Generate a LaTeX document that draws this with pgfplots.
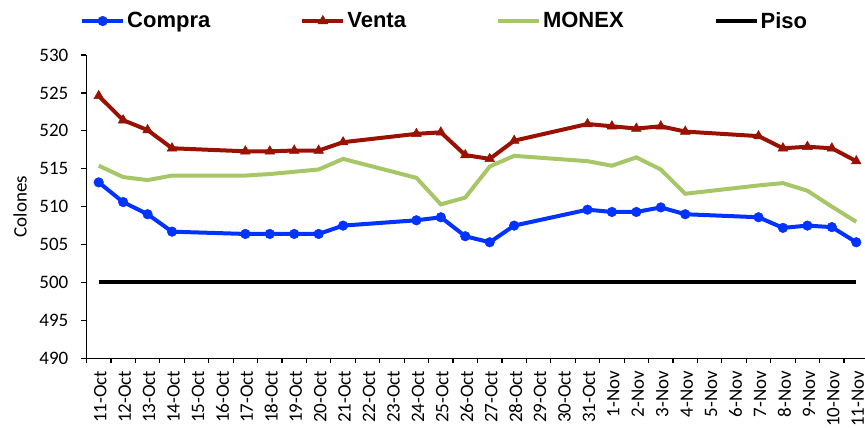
\documentclass[border=0pt]{standalone}
\usepackage{pgfplots}
\pgfplotsset{compat=1.18}
\usepackage{fontspec}
\setmainfont{Carlito}
\newfontfamily\legfont{Liberation Sans}
\definecolor{cblue}{RGB}{0,51,255}
\definecolor{cred}{RGB}{153,17,0}
\definecolor{cgreen}{RGB}{166,198,104}
\begin{document}
\begin{tikzpicture}
\useasboundingbox (0,0) rectangle (865pt,428pt);
\begin{axis}[
  scale only axis, width=782pt, height=303.3pt,
  at={(86.5pt,69.7pt)}, anchor=south west,
  xmin=-0.5, xmax=31.5, ymin=490, ymax=530,
  axis x line*=bottom, axis y line*=left,
  axis line style={line width=1.5pt, black},
  ytick={490,495,...,530},
  xtick={-0.5,0.5,...,31.5},
  x tick label as interval,
  xticklabels={11-Oct,12-Oct,13-Oct,14-Oct,15-Oct,16-Oct,17-Oct,18-Oct,19-Oct,20-Oct,21-Oct,22-Oct,23-Oct,24-Oct,25-Oct,26-Oct,27-Oct,28-Oct,29-Oct,30-Oct,31-Oct,1-Nov,2-Nov,3-Nov,4-Nov,5-Nov,6-Nov,7-Nov,8-Nov,9-Nov,10-Nov,11-Nov},
  tick align=outside, major tick length=5pt,
  tick style={line width=1.2pt, black},
  /pgf/number format/assume math mode=true,
  tick label style={font=\fontsize{19}{20}\selectfont},
  yticklabel style={anchor=east, inner sep=0pt},
  yticklabel shift=13pt,
  xticklabel style={xshift=1.5pt, rotate=90, anchor=east, inner sep=0pt},
  xticklabel shift=7.4pt,
  ylabel={Colones},
  every axis y label/.style={at={(axis description cs:-0.0849,0.5)}, rotate=90, anchor=center, font=\fontsize{19}{20}\selectfont},
  legend columns=4,
  legend cell align=left,
  legend style={at={(-0.0083,1.112)}, anchor=west, draw=none, fill=none, inner sep=0pt,
    font=\legfont\bfseries\fontsize{22}{24}\selectfont,
    nodes={inner xsep=2pt, inner ysep=0pt},
    /tikz/every even column/.append style={column sep=88pt}},
  legend image code/.code={\draw[mark repeat=2,mark phase=2,#1] plot coordinates {(0pt,0pt) (20.5pt,0pt) (41pt,0pt)};},
]
\addplot[color=cblue, line width=4pt, mark=*, mark size=4.8pt, mark options={solid, fill=cblue, line width=0.5pt}] coordinates {
(0,513.2) (1,510.6) (2,509.0) (3,506.7) (6,506.4) (7,506.4) (8,506.4) (9,506.4) (10,507.5)
(13,508.2) (14,508.6) (15,506.1) (16,505.3) (17,507.5) (20,509.6) (21,509.3) (22,509.3)
(23,509.9) (24,509.0) (27,508.6) (28,507.2) (29,507.5) (30,507.3) (31,505.3)};
\addlegendentry{Compra}
\addplot[color=cred, line width=4pt, mark=triangle*, mark size=5.6pt, mark options={solid, fill=cred, line width=0.5pt}] coordinates {
(0,524.6) (1,521.4) (2,520.1) (3,517.7) (6,517.3) (7,517.3) (8,517.4) (9,517.4) (10,518.5)
(13,519.6) (14,519.8) (15,516.8) (16,516.3) (17,518.7) (20,520.9) (21,520.6) (22,520.3)
(23,520.6) (24,519.9) (27,519.3) (28,517.7) (29,517.9) (30,517.7) (31,516.0)};
\addlegendentry{Venta}
\addplot[color=cgreen, line width=4pt, no markers] coordinates {
(0,515.4) (1,513.9) (2,513.5) (3,514.1) (6,514.1) (7,514.3) (8,514.6) (9,514.9) (10,516.3)
(13,513.8) (14,510.3) (15,511.2) (16,515.3) (17,516.7) (20,516.0) (21,515.4) (22,516.5)
(23,514.9) (24,511.7) (27,512.8) (28,513.1) (29,512.1) (30,510.0) (31,508.0)};
\addlegendentry{MONEX}
\addplot[color=black, line width=4pt, no markers] coordinates {(0,500) (31,500)};
\addlegendentry{Piso}
\end{axis}
\end{tikzpicture}
\end{document}
